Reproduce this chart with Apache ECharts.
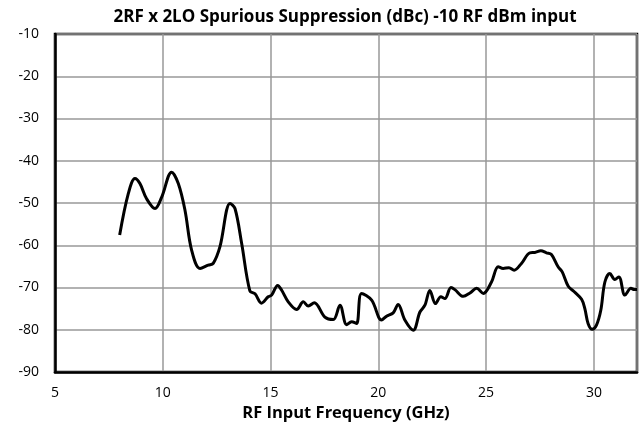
<!DOCTYPE html>
<html><head><meta charset="utf-8">
<script src="https://cdn.jsdelivr.net/npm/echarts@6/dist/echarts.min.js"></script>
<style>html,body{margin:0;padding:0;background:#fff}#c{width:643px;height:427px}</style>
</head><body><div id="c"></div>
<script>
const titleText = '2RF x 2LO Spurious Suppression (dBc) -10 RF dBm input';
const xAxisName = 'RF Input Frequency (GHz)';
const freq = [8.0,8.40,8.71,8.94,9.25,9.64,9.95,10.41,10.72,11.03,11.34,11.73,12.11,12.34,12.65,13.12,13.35,13.66,14.04,14.28,14.58,14.89,15.05,15.33,15.51,15.82,16.21,16.52,16.75,17.03,17.52,17.91,18.22,18.53,18.76,18.99,19.22,19.69,20.15,20.38,20.69,20.92,21.23,21.62,21.93,22.16,22.39,22.65,22.90,23.09,23.37,23.55,23.94,24.25,24.56,24.87,25.25,25.56,25.79,26.06,26.30,26.64,27.03,27.26,27.54,27.80,28.03,28.34,28.53,28.81,29.09,29.43,29.58,29.73,29.92,30.12,30.32,30.51,30.74,30.97,31.16,31.44,31.72,31.87,32.0];
const suppression = [-57.6,-47.8,-44.2,-45.4,-49.0,-51.3,-48.6,-42.7,-45.4,-51.7,-61.2,-65.5,-64.7,-64.3,-60.4,-50.1,-51.3,-59.6,-70.8,-71.5,-73.7,-72.2,-71.8,-69.5,-70.6,-73.4,-75.2,-73.4,-74.4,-73.6,-77.0,-77.6,-74.2,-78.8,-78.1,-78.5,-71.4,-73.0,-77.7,-76.8,-76.0,-74.0,-77.7,-80.1,-75.8,-74.2,-70.7,-73.8,-72.2,-72.6,-70.0,-70.5,-72.1,-71.3,-70.2,-71.4,-68.7,-65.1,-65.5,-65.3,-65.9,-64.3,-61.8,-61.7,-61.3,-61.8,-62.2,-65.1,-66.3,-69.7,-71.0,-72.8,-75.0,-78.5,-79.9,-78.9,-75.4,-68.7,-66.7,-68.1,-67.5,-71.8,-70.2,-70.5,-70.5];
const xMin = 5, xMax = 32, xStep = 5;
const yMin = -90, yMax = -10, yStep = 10;

const chart = echarts.init(document.getElementById('c'));
const font = 'Open Sans';
chart.setOption({
  animation: false,
  title: { text: titleText, left: 340, textAlign: 'center', top: 4,
    textStyle: { fontFamily: font, fontWeight: 'bold', fontSize: 17, color: '#000' } },
  grid: { left: 55, right: 6, top: 34, bottom: 55, show: true, borderColor: '#000', borderWidth: 2.5, containLabel: false },
  xAxis: { type: 'value', min: xMin, max: xMax, interval: xStep,
    name: xAxisName, nameLocation: 'middle', nameGap: 33,
    nameTextStyle: { fontFamily: font, fontWeight: 'bold', fontSize: 16.5, color: '#000' },
    axisLine: { show: true, lineStyle: { color: '#000', width: 2.5 } },
    axisTick: { show: false },
    axisLabel: { fontFamily: font, fontSize: 14, color: '#000', margin: 14, showMaxLabel: false },
    splitLine: { show: true, lineStyle: { color: '#999', width: 1.5 } } },
  yAxis: { type: 'value', min: yMin, max: yMax, interval: yStep,
    axisLine: { show: true, lineStyle: { color: '#000', width: 2.5 } },
    axisTick: { show: false },
    axisLabel: { fontFamily: font, fontSize: 14, color: '#000', margin: 16 },
    splitLine: { show: true, lineStyle: { color: '#999', width: 1.5 } } },
  series: [{ type: 'line', data: freq.map((f, i) => [f, suppression[i]]),
    smooth: 0.35, symbol: 'none', lineStyle: { color: '#000', width: 3 } }]
});
</script></body></html>
